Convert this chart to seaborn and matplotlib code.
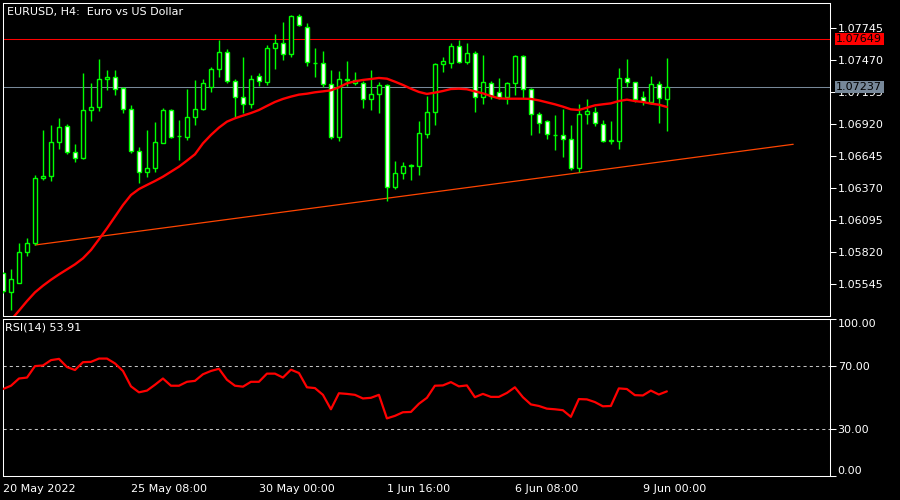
import numpy as np
import pandas as pd
import matplotlib
matplotlib.use("Agg")
import matplotlib.pyplot as plt
import matplotlib.transforms as mtransforms
import seaborn as sns

# ---------------- data ----------------
opens = [1.05640, 1.05483, 1.05560, 1.05826, 1.05903, 1.06455, 1.06478, 1.06764, 1.06904, 1.06684,
         1.06627, 1.07038, 1.07064, 1.07304, 1.07327, 1.07227, 1.07047, 1.06692, 1.06506, 1.06541,
         1.06761, 1.07041, 1.06818, 1.06812, 1.06978, 1.07050, 1.07236, 1.07390, 1.07536, 1.07293,
         1.07150, 1.07096, 1.07336, 1.07284, 1.07570, 1.07619, 1.07519, 1.07851, 1.07756, 1.07442,
         1.07442, 1.07261, 1.06807, 1.07299, 1.07276, 1.07270, 1.07133, 1.07176, 1.07253, 1.06383,
         1.06498, 1.06561, 1.06564, 1.06832, 1.07021, 1.07433, 1.07447, 1.07590, 1.07456, 1.07527,
         1.07150, 1.07270, 1.07193, 1.07156, 1.07270, 1.07505, 1.07219, 1.07004, 1.06947, 1.06827,
         1.06827, 1.06790, 1.06547, 1.07004, 1.07021, 1.06918, 1.06778, 1.06778, 1.07313, 1.07279,
         1.07156, 1.07113, 1.07261, 1.07138]
highs = [1.05654, 1.05674, 1.05897, 1.05940, 1.06484, 1.06870, 1.06913, 1.06975, 1.06921, 1.06747,
         1.07356, 1.07276, 1.07476, 1.07384, 1.07384, 1.07236, 1.07081, 1.06721, 1.06870, 1.06938,
         1.07056, 1.07050, 1.06955, 1.07219, 1.07299, 1.07304, 1.07413, 1.07642, 1.07562, 1.07304,
         1.07493, 1.07342, 1.07356, 1.07599, 1.07693, 1.07793, 1.07856, 1.07862, 1.07785, 1.07570,
         1.07547, 1.07384, 1.07376, 1.07462, 1.07367, 1.07290, 1.07384, 1.07284, 1.07261, 1.06604,
         1.06592, 1.06578, 1.06947, 1.07161, 1.07447, 1.07499, 1.07619, 1.07642, 1.07619, 1.07547,
         1.07513, 1.07290, 1.07313, 1.07284, 1.07513, 1.07510, 1.07227, 1.07021, 1.06955, 1.06998,
         1.07050, 1.06913, 1.07093, 1.07136, 1.07070, 1.06955, 1.06947, 1.07399, 1.07479, 1.07284,
         1.07204, 1.07333, 1.07290, 1.07485]
lows = [1.05468, 1.05325, 1.05554, 1.05789, 1.05883, 1.06441, 1.06432, 1.06707, 1.06664, 1.06598,
        1.06621, 1.06950, 1.07035, 1.07213, 1.07170, 1.07018, 1.06669, 1.06412, 1.06469, 1.06512,
        1.06755, 1.06798, 1.06612, 1.06784, 1.06913, 1.07041, 1.07199, 1.07327, 1.07270, 1.06984,
        1.07013, 1.07056, 1.07247, 1.07256, 1.07393, 1.07470, 1.07499, 1.07762, 1.07422, 1.07327,
        1.07236, 1.06790, 1.06778, 1.07247, 1.07256, 1.07061, 1.07041, 1.07013, 1.06263, 1.06363,
        1.06449, 1.06441, 1.06484, 1.06804, 1.06913, 1.07370, 1.07404, 1.07442, 1.07436, 1.07027,
        1.07093, 1.07136, 1.07133, 1.07093, 1.07170, 1.07141, 1.06827, 1.06841, 1.06793, 1.06698,
        1.06641, 1.06527, 1.06506, 1.06921, 1.06904, 1.06770, 1.06750, 1.06707, 1.07236, 1.07113,
        1.07084, 1.07093, 1.06933, 1.06861]
closes = [1.05488, 1.05588, 1.05826, 1.05903, 1.06455, 1.06478, 1.06764, 1.06893, 1.06684, 1.06627,
          1.07041, 1.07064, 1.07304, 1.07321, 1.07219, 1.07047, 1.06692, 1.06506, 1.06541, 1.06764,
          1.07041, 1.06812, 1.06821, 1.06978, 1.07050, 1.07270, 1.07390, 1.07536, 1.07293, 1.07150,
          1.07096, 1.07304, 1.07290, 1.07570, 1.07619, 1.07519, 1.07851, 1.07768, 1.07450, 1.07444,
          1.07261, 1.06807, 1.07304, 1.07304, 1.07299, 1.07133, 1.07176, 1.07253, 1.06383, 1.06498,
          1.06561, 1.06566, 1.06841, 1.07021, 1.07433, 1.07462, 1.07590, 1.07456, 1.07527, 1.07150,
          1.07279, 1.07164, 1.07156, 1.07270, 1.07505, 1.07219, 1.07004, 1.06927, 1.06832, 1.06825,
          1.06790, 1.06547, 1.07004, 1.07033, 1.06927, 1.06778, 1.06781, 1.07313, 1.07279, 1.07136,
          1.07118, 1.07261, 1.07147, 1.07237]
ma_values = [1.05156, 1.05239, 1.05320, 1.05402, 1.05477, 1.05534, 1.05585, 1.05631, 1.05674, 1.05717,
             1.05769, 1.05840, 1.05932, 1.06026, 1.06126, 1.06226, 1.06312, 1.06363, 1.06398, 1.06432,
             1.06469, 1.06512, 1.06555, 1.06607, 1.06661, 1.06755, 1.06827, 1.06890, 1.06941, 1.06970,
             1.06993, 1.07015, 1.07041, 1.07076, 1.07110, 1.07136, 1.07156, 1.07173, 1.07181, 1.07193,
             1.07201, 1.07210, 1.07236, 1.07270, 1.07287, 1.07299, 1.07307, 1.07316, 1.07310, 1.07284,
             1.07256, 1.07224, 1.07196, 1.07179, 1.07190, 1.07204, 1.07221, 1.07224, 1.07219, 1.07201,
             1.07184, 1.07161, 1.07141, 1.07138, 1.07138, 1.07138, 1.07136, 1.07124, 1.07107, 1.07090,
             1.07070, 1.07047, 1.07041, 1.07061, 1.07081, 1.07090, 1.07098, 1.07118, 1.07130, 1.07118,
             1.07110, 1.07096, 1.07087, 1.07067]
rsi_values = [55.4, 57.5, 62.1, 62.7, 70.0, 70.4, 73.8, 74.6, 69.4, 67.5,
              72.5, 72.7, 74.8, 74.8, 71.7, 66.9, 57.1, 53.3, 54.4, 58.1,
              62.1, 57.5, 57.5, 60.0, 60.6, 64.8, 66.9, 68.3, 61.3, 57.5,
              56.9, 60.0, 60.0, 65.2, 65.2, 62.7, 67.7, 65.6, 56.5, 56.0,
              51.7, 42.5, 52.7, 52.3, 51.7, 49.4, 49.8, 51.7, 36.7, 38.3,
              40.6, 40.8, 46.0, 49.8, 57.5, 57.7, 59.8, 57.1, 57.7, 50.2,
              52.3, 50.4, 50.4, 52.9, 56.5, 50.2, 45.6, 44.6, 42.9, 42.5,
              41.9, 37.7, 49.0, 48.8, 47.1, 44.4, 44.6, 55.8, 55.4, 51.5,
              51.3, 54.4, 51.9, 53.9]

x_tick_bars = [0, 16, 32, 48, 64, 80]
x_tick_labels = ["20 May 2022", "25 May 08:00", "30 May 00:00", "1 Jun 16:00", "6 Jun 08:00", "9 Jun 00:00"]
price_ticks = [1.07745, 1.07470, 1.07195, 1.06920, 1.06645, 1.06370, 1.06095, 1.05820, 1.05545]
rsi_ticks = [0, 30, 70, 100]
rsi_levels = [30, 70]
ask_price = 1.07649
bid_price = 1.07237
trend_x = [4, 98.8]
trend_y = [1.05883, 1.06747]
title_text = "EURUSD, H4:  Euro vs US Dollar"
rsi_text = "RSI(14) 53.91"

# ---------------- style ----------------
sns.set_theme(style="dark", rc={
    "figure.facecolor": "black", "axes.facecolor": "black",
    "axes.edgecolor": "white", "axes.linewidth": 0.75,
    "text.color": "white", "xtick.color": "white", "ytick.color": "white",
    "axes.grid": False,
})
plt.rcParams["font.family"] = ["DejaVu Sans"]

GREEN = "#00FF00"
W, H = 900, 500
fig = plt.figure(figsize=(9, 5), dpi=100, facecolor="black")
ax = fig.add_axes([3 / W, 184 / H, 827 / W, 313 / H])
ax2 = fig.add_axes([3 / W, 24 / H, 827 / W, 157 / H])

df = pd.DataFrame({"open": opens, "high": highs, "low": lows, "close": closes,
                   "ma": ma_values, "rsi": rsi_values})
df["idx"] = np.arange(len(df))
df["bull"] = df["close"] >= df["open"]
df["body_lo"] = df[["open", "close"]].min(axis=1)
df["body_h"] = (df["close"] - df["open"]).abs()

xmin, xmax = 0.0, 103.4

# trend line
ax.plot(trend_x, trend_y, color="#FF4500", lw=0.9, zorder=2)
# bid/ask lines
ax.axhline(ask_price, color="#FF0000", lw=0.75, zorder=1)
ax.axhline(bid_price, color="#778899", lw=0.75, zorder=1)

# candles
ax.vlines(df["idx"], df["low"], df["high"], color=GREEN, lw=1.0, zorder=3)
ax.bar(df["idx"], df["body_h"], bottom=df["body_lo"], width=0.5,
       color=np.where(df["bull"], "black", "white"), edgecolor=GREEN,
       linewidth=1.0, zorder=4)

# moving average
sns.lineplot(data=df, x="idx", y="ma", ax=ax, color="#FF0000", lw=1.7, zorder=5)

ax.set_xlim(xmin, xmax)
ax.set_ylim(1.05274, 1.07959)
ax.set_xlabel(""); ax.set_ylabel("")
ax.tick_params(axis="x", bottom=False, labelbottom=False)
ax.yaxis.tick_right()
ax.set_yticks(price_ticks)
ax.set_yticklabels([f"{p:.5f}" for p in price_ticks])
ax.tick_params(axis="y", direction="out", length=4, width=0.75, pad=1.5,
               labelsize=8, colors="white")
for s in ax.spines.values():
    s.set_color("white"); s.set_linewidth(0.75)

ax.text(0.005, 0.988, title_text, transform=ax.transAxes, ha="left", va="top",
        fontsize=8, color="white")

tr = mtransforms.blended_transform_factory(ax.transAxes, ax.transData)
ax.text(1.0075, ask_price, f"{ask_price:.5f}", transform=tr, ha="left", va="center",
        fontsize=8, color="black", zorder=10, clip_on=False,
        bbox=dict(boxstyle="square,pad=0.12", fc="#FF0000", ec="none"))
ax.text(1.0075, bid_price, f"{bid_price:.5f}", transform=tr, ha="left", va="center",
        fontsize=8, color="black", zorder=10, clip_on=False,
        bbox=dict(boxstyle="square,pad=0.12", fc="#778899", ec="none"))

# RSI panel
for lv in rsi_levels:
    ax2.axhline(lv, color="#C0C0C0", lw=0.75, ls=(0, (3, 3)), zorder=1)
sns.lineplot(data=df, x="idx", y="rsi", ax=ax2, color="#FF0000", lw=1.6, zorder=3)
ax2.set_xlim(xmin, xmax)
ax2.set_ylim(0, 100)
ax2.set_xlabel(""); ax2.set_ylabel("")
ax2.yaxis.tick_right()
ax2.set_yticks(rsi_ticks)
ax2.set_yticklabels([f"{v:.2f}" for v in rsi_ticks])
ax2.tick_params(axis="y", direction="out", length=4, width=0.75, pad=1.5,
                labelsize=8, colors="white")
for lab, v in zip(ax2.get_yticklabels(), rsi_ticks):
    if v == 100:
        lab.set_va("top")
    elif v == 0:
        lab.set_va("bottom")
ax2.set_xticks(x_tick_bars)
ax2.set_xticklabels(x_tick_labels, ha="left")
ax2.tick_params(axis="x", direction="out", length=4, width=0.75, pad=1.5,
                labelsize=8, colors="white")
for s in ax2.spines.values():
    s.set_color("white"); s.set_linewidth(0.75)
ax2.text(0.003, 0.975, rsi_text, transform=ax2.transAxes, ha="left", va="top",
         fontsize=8, color="white")

fig.savefig("out.png", dpi=100, facecolor="black")
